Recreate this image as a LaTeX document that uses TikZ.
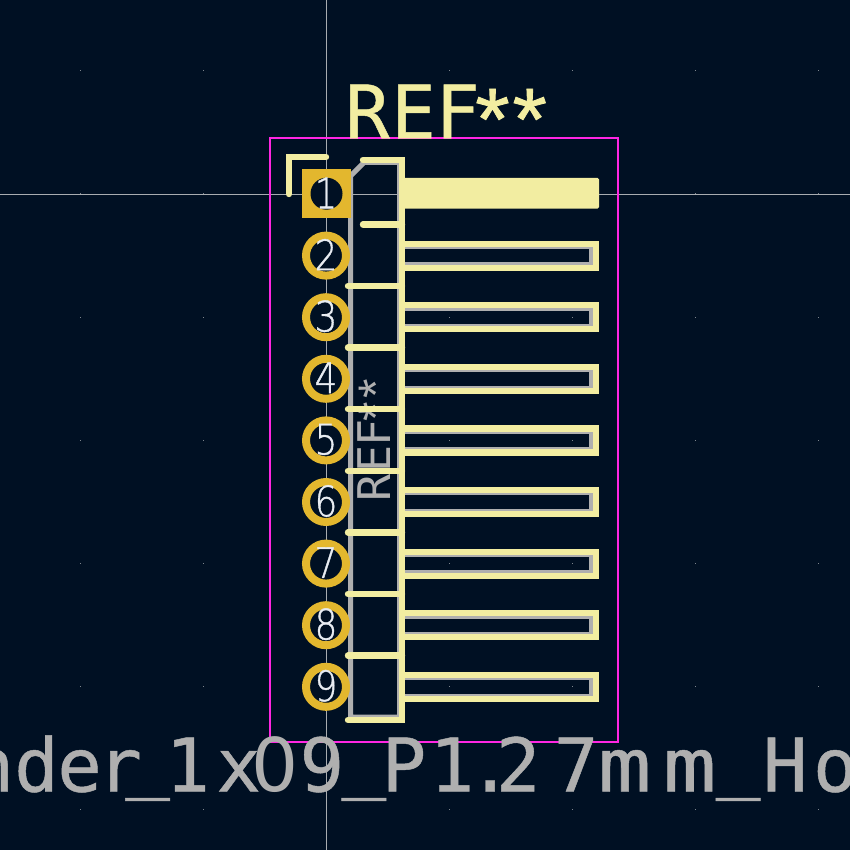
\documentclass[tikz,border=0pt]{standalone}
\usepackage{fontspec}
\setmainfont{DejaVu Sans Mono}
\newfontfamily\propfont{DejaVu Sans}
\newfontfamily\starfont{Liberation Sans}
\newfontfamily\boldmono[FakeBold=0.6]{DejaVu Sans Mono}
\newfontfamily\boldstar[FakeBold=1.0]{Liberation Sans}
\newfontfamily\thinfont[FakeBold=1.0]{DejaVu Sans ExtraLight}
\definecolor{boardbg}{HTML}{001023}
\definecolor{silk}{HTML}{F2EDA1}
\definecolor{fab}{HTML}{AFAFAF}
\definecolor{court}{HTML}{FF26E2}
\definecolor{padgold}{HTML}{E3B72E}
\definecolor{padnum}{HTML}{E8ECF2}
\definecolor{cross}{HTML}{A8ACB0}
\newcommand{\plainzero}{\makebox[0.602em]{\propfont 0}}
\newcommand{\lowbar}{\raisebox{8pt}{\_}}
\newcommand{\widem}{\scalebox{1.2}[1]{m}}
\tikzset{
  silkline/.style={draw=silk,line width=6.4pt,line cap=round,line join=miter},
  fabline/.style={draw=fab,line width=5pt,line cap=butt,line join=miter},
  courtline/.style={draw=court,line width=2pt},
  crossline/.style={draw=cross,line width=0.9pt},
  padround/.style={circle,draw=padgold,fill=boardbg,line width=8pt,minimum size=40pt,inner sep=0pt},
  padsquare/.style={rectangle,fill=padgold,minimum size=49pt,inner sep=0pt},
  hole/.style={circle,fill=boardbg,minimum size=32pt,inner sep=0pt},
  padlabel/.style={text=padnum,font=\thinfont\fontsize{42}{42}\selectfont,inner sep=0pt},
  griddot/.style={fill=cross!75!boardbg,inner sep=0pt,minimum size=1pt,rectangle}
}
\begin{document}
\begin{tikzpicture}[x=1pt,y=-1pt]
\useasboundingbox (0,0) rectangle (850,850);
\fill[boardbg] (0,0) rectangle (850,850);
% grid dots
\foreach \gx in {80,203,449.5,572.5,695.5,818.5}
  \foreach \gy in {71,194,317,440,563,686,809}
    \node[griddot] at (\gx,\gy) {};
% crosshair
\draw[crossline] (326,0) -- (326,850);
\draw[crossline] (0,194) -- (850,194);
% fabrication outline
\draw[fabline] (350.5,717) -- (350.5,176) -- (364,162.5) -- (399.5,162.5) -- (399.5,717) -- cycle;
\foreach \k in {1,...,8}{
  \pgfmathsetmacro{\cy}{194+61.6*\k}
  \draw[fabline] (402,\cy-9.2) -- (591.3,\cy-9.2) -- (591.3,\cy+9.2) -- (402,\cy+9.2);
}
% fab reference
\node[text=fab,rotate=90,inner sep=0pt,anchor=base west,font=\fontsize{45}{45}\selectfont] (fabref) at (390,502) {R\kern2.5pt E\kern-1.5pt F\kern-2pt{\starfont\fontsize{50}{50}\selectfont\raisebox{-3.5pt}{*\kern3.5pt*}}};
% silk
\draw[silkline] (289,194) -- (289,157) -- (326,157);
\draw[silkline] (363,160) -- (402,160) -- (402,720) -- (348,720);
\draw[silkline] (363,224.5) -- (402,224.5);
\foreach \yy in {286,347.6,409.2,470.8,532.4,594,655.6}
  \draw[silkline] (348,\yy) -- (402,\yy);
\fill[silk,rounded corners=1.5pt] (400,178) rectangle (599,208.7);
\foreach \k in {1,...,8}{
  \pgfmathsetmacro{\cy}{194+61.6*\k}
  \draw[silkline,line width=6.2pt,line cap=butt] (402,\cy-12) -- (596,\cy-12) -- (596,\cy+12) -- (402,\cy+12);
}
% courtyard
\draw[courtline] (270,138) rectangle (618,741.8);
% pads
\node[padsquare] (pad1) at (326.5,193.7) {};
\node[hole] (hole1) at (326.5,193.7) {};
\foreach \k in {2,...,9}{
  \pgfmathsetmacro{\cy}{194+61.6*(\k-1)}
  \node[padround] (pad\k) at (326,\cy) {};
}
\foreach \k in {1,...,9}{
  \pgfmathsetmacro{\cy}{194+61.6*(\k-1)}
  \node[padlabel] (num\k) at (326,\cy-1) {\scalebox{0.85}[1]{\k}};
}
% texts
\node[text=silk,inner sep=0pt,anchor=base west,font=\boldmono\fontsize{74}{74}\selectfont] (ref) at (345,138.5) {R\kern1.5pt E\kern-0.5pt F\kern-4.5pt{\boldstar\fontsize{88}{88}\selectfont\raisebox{-11pt}{*\kern3pt*}}};
\node[text=fab,inner sep=0pt,anchor=base west,font=\boldmono\fontsize{74}{74}\selectfont] (value) at (-30.5,791.5) {n\kern0pt d\kern-1.5pt e\kern-4.5pt r\kern-16.5pt\lowbar\kern-4.5pt 1\kern6.5pt x\kern-8.5pt\plainzero\kern2.5pt 9\kern-2.5pt\lowbar\kern-4.5pt P\kern3.5pt 1\kern-6.5pt .\kern-16.5pt 2\kern13.5pt 7\kern-0.5pt \widem\kern11.5pt \widem\kern-0.5pt\lowbar\kern2.5pt H\kern5.5pt o};
\end{tikzpicture}
\end{document}
